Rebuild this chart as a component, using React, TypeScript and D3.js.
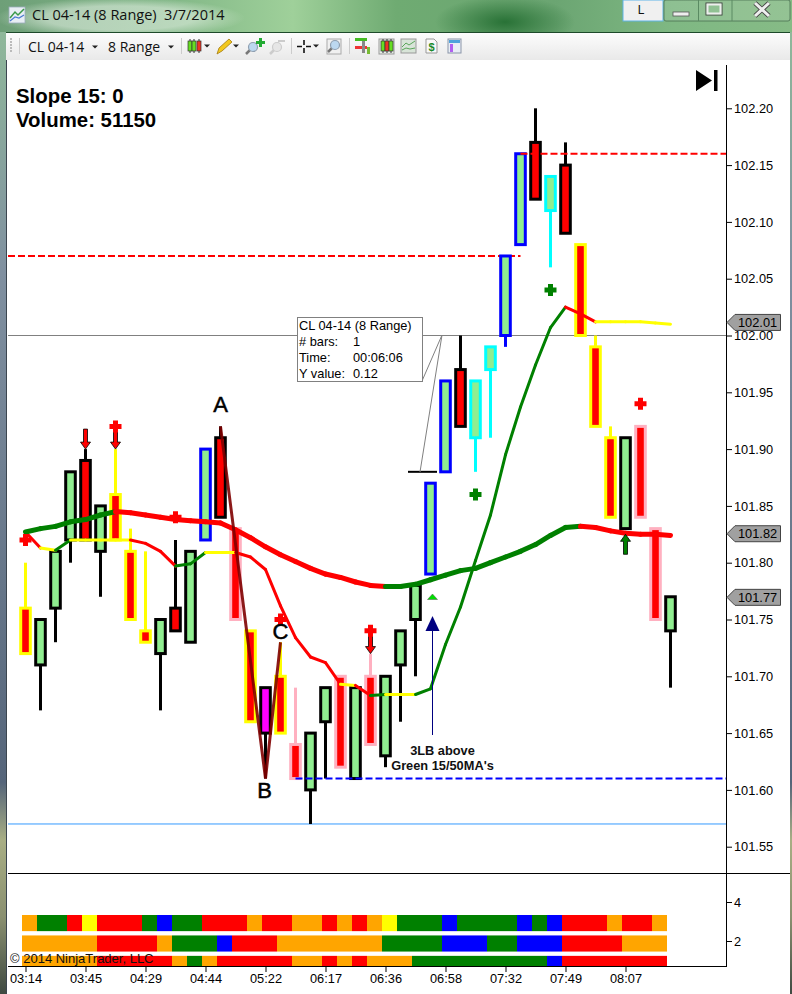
import React, { useEffect, useRef } from 'react';
import * as d3 from 'd3';

const WIDTH = 792;
const HEIGHT = 994;
const FONT = '"Liberation Sans", Arial, sans-serif';
const UI_FONT = '"Open Sans", "Noto Sans", sans-serif';

// one entry per range bar
const opens = [101.76, 101.71, 101.76, 101.82, 101.89, 101.81, 101.86, 101.81, 101.74, 101.72, 101.76, 101.73, 101.82, 101.91, 101.83, 101.74, 101.69, 101.7, 101.64, 101.6, 101.66, 101.7, 101.61, 101.7, 101.63, 101.71, 101.75, 101.79, 101.88, 101.97, 101.91, 101.97, 102.0, 102.08, 102.17, 102.11, 102.15, 102.08, 101.99, 101.91, 101.83, 101.92, 101.83, 101.74];
const closes = [101.72, 101.75, 101.81, 101.88, 101.82, 101.85, 101.82, 101.75, 101.73, 101.75, 101.74, 101.81, 101.9, 101.84, 101.75, 101.66, 101.65, 101.65, 101.61, 101.65, 101.69, 101.62, 101.69, 101.64, 101.7, 101.74, 101.78, 101.87, 101.96, 101.92, 101.96, 101.99, 102.07, 102.16, 102.12, 102.14, 102.09, 102.0, 101.92, 101.84, 101.91, 101.84, 101.75, 101.77];
const highs = [101.8, 101.75, 101.81, 101.88, 101.9, 101.85, 101.9, 101.83, 101.81, 101.75, 101.82, 101.81, 101.9, 101.92, 101.83, 101.74, 101.69, 101.73, 101.69, 101.65, 101.69, 101.7, 101.69, 101.72, 101.7, 101.74, 101.78, 101.87, 101.96, 102.0, 101.96, 101.99, 102.07, 102.16, 102.2, 102.14, 102.17, 102.08, 102.0, 101.92, 101.91, 101.92, 101.83, 101.77];
const lows = [101.72, 101.67, 101.73, 101.8, 101.82, 101.77, 101.82, 101.75, 101.73, 101.67, 101.74, 101.73, 101.82, 101.84, 101.75, 101.66, 101.61, 101.65, 101.61, 101.57, 101.61, 101.62, 101.61, 101.64, 101.62, 101.66, 101.7, 101.79, 101.88, 101.92, 101.88, 101.91, 101.99, 102.08, 102.12, 102.06, 102.09, 102.0, 101.92, 101.84, 101.83, 101.84, 101.75, 101.69];
const outlineCodes = 'YKKKKKYYYKKKBKPYKYPKKPKPKKKBBKCCBBKCKYYYKPPK'.split('');
const magentaBars = [16];

const ma50 = [101.827, 101.83, 101.832, 101.836, 101.838, 101.842, 101.845, 101.844, 101.842, 101.84, 101.838, 101.837, 101.836, 101.835, 101.829, 101.822, 101.814, 101.807, 101.801, 101.795, 101.79, 101.787, 101.783, 101.78, 101.779, 101.779, 101.781, 101.785, 101.789, 101.793, 101.795, 101.8, 101.805, 101.81, 101.816, 101.824, 101.831, 101.832, 101.831, 101.828, 101.826, 101.825, 101.825, 101.824];
const ma50Runs: [string, number][] = [['U', 6], ['D', 18], ['U', 13], ['D', 6]];
const ma15 = [101.827, 101.813, 101.811, 101.82, 101.82, 101.82, 101.82, 101.82, 101.817, 101.81, 101.797, 101.799, 101.809, 101.809, 101.809, 101.805, 101.794, 101.762, 101.734, 101.717, 101.712, 101.693, 101.692, 101.683, 101.684, 101.684, 101.684, 101.689, 101.728, 101.761, 101.802, 101.842, 101.895, 101.937, 101.974, 102.007, 102.025, 102.019, 102.012, 102.012, 102.012, 102.012, 102.011, 102.01];
const ma15Runs: [string, number][] = [['D', 1], ['F', 1], ['U', 1], ['F', 4], ['D', 3], ['U', 2], ['F', 2], ['D', 7], ['F', 1], ['D', 1], ['U', 1], ['F', 2], ['U', 10], ['D', 2], ['F', 5]];

const swingPrices = [101.92, 101.61, 101.73];
const swingBars = [13, 16, 17];
const swingNames = ['A', 'B', 'C'];
const swingLabelPrices = [101.94, 101.6, 101.74];

const redPlus = [[0, 101.82], [6, 101.92], [10, 101.84], [17, 101.75], [23, 101.74], [41, 101.94]];
const greenPlus = [[30, 101.86], [35, 102.04]];
const redArrows = [[4, 101.9], [6, 101.9], [23, 101.72]];
const greenArrows = [[40, 101.825]];

const priceTicks = [101.55, 101.6, 101.65, 101.7, 101.75, 101.8, 101.85, 101.9, 101.95, 102.0, 102.05, 102.1, 102.15, 102.2];
const priceTags = [102.01, 101.82, 101.77];
const tagCentres = [102.0115, 101.8255, 101.7695];
const timeLabels = ['03:14', '03:45', '04:29', '04:44', '05:22', '06:17', '06:36', '06:58', '07:32', '07:49', '08:07'];

const trendRow1: [string, number][] = [['O', 1], ['G', 2], ['R', 1], ['Y', 1], ['R', 3], ['G', 1], ['B', 1], ['G', 2], ['R', 3], ['O', 1], ['R', 2], ['O', 2], ['R', 1], ['O', 1], ['R', 1], ['O', 1], ['Y', 1], ['G', 3], ['B', 1], ['G', 4], ['B', 1], ['G', 1], ['B', 1], ['R', 3], ['O', 1], ['R', 2], ['O', 1]];
const trendRow2: [string, number][] = [['O', 5], ['R', 4], ['O', 1], ['G', 3], ['B', 1], ['R', 3], ['O', 7], ['G', 4], ['B', 3], ['G', 2], ['B', 3], ['R', 4], ['O', 3]];
const trendRow3: [string, number][] = [['O', 5], ['R', 5], ['O', 1], ['G', 1], ['O', 1], ['R', 5], ['O', 2], ['R', 1], ['O', 1], ['R', 1], ['O', 3], ['G', 9], ['B', 1], ['R', 7]];
const lowerTicks = [2, 4];

const tooltipLines = [
  ['CL 04-14 (8 Range)', ''],
  ['# bars:', '1'],
  ['Time:', '00:06:06'],
  ['Y value:', '0.12'],
];

const OUTLINE: Record<string, string> = { K: '#000', Y: '#ffff00', P: '#ffb0c0', B: '#0000ff', C: '#00ffff' };
const TREND: Record<string, string> = { U: '#008000', D: '#ff0000', F: '#ffff00' };
const CELL: Record<string, string> = { O: '#ffa500', G: '#008000', R: '#ff0000', Y: '#ffff00', B: '#0000ff' };

const x = d3.scaleLinear().domain([0, 43]).range([25.5, 670.5]);
const y = d3.scaleLinear().domain([101.55, 102.2]).range([846.7, 108.3]);
const lowerY = d3.scaleLinear().domain([2, 4]).range([941, 902]);
const rowBand = d3.scaleBand<number>().domain([0, 1, 2]).range([915, 972]).paddingInner(4 / 19);

const linePath = d3.line<[number, number]>().x((d) => d[0]).y((d) => d[1]);

// run-length codes -> one code per bar
const expand = (runs: [string, number][]) => runs.flatMap(([code, n]) => Array<string>(n).fill(code));

// line with a colour per segment
const Segments = ({ values, runs, width }: { values: number[]; runs: [string, number][]; width: number }) => (
  <g fill="none" strokeWidth={width} strokeLinecap="round">
    {expand(runs).map((t, i) => (
      <path key={i} stroke={TREND[t]} d={linePath([[x(i), y(values[i])], [x(i + 1), y(values[i + 1])]]) as string} />
    ))}
  </g>
);

const Plus = ({ bar, price, color }: { bar: number; price: number; color: string }) => {
  const cx = x(bar);
  const cy = y(price);
  return <path d={`M${cx - 6},${cy - 2.5}h3.5v-3.5h5v3.5h3.5v5h-3.5v3.5h-5v-3.5h-3.5z`} fill={color} />;
};

const Arrow = ({ bar, price, dir, color }: { bar: number; price: number; dir: number; color: string }) => {
  const cx = x(bar);
  const tip = y(price);
  return (
    <path
      d={`M${cx},${tip} l${-5},${-dir * 7} h3 v${-dir * 13} h4 v${dir * 13} h3 z`}
      fill={color}
      stroke="#000"
      strokeWidth={0.8}
    />
  );
};

const CandleIcon = ({ cx, cy, c }: { cx: number; cy: number; c: string }) => (
  <g>
    <line x1={cx} x2={cx} y1={cy - 7} y2={cy + 7} stroke="#333" />
    <rect x={cx - 2} y={cy - 5} width={4} height={10} fill={c} stroke="#333" strokeWidth={0.7} />
  </g>
);

const Caret = ({ cx, cy }: { cx: number; cy: number }) => <path d={`M${cx - 3},${cy - 1.5}h6l-3,3z`} fill="#222" />;

const Lens = ({ cx, cy, on }: { cx: number; cy: number; on: boolean }) => (
  <g>
    <line x1={cx - 3} y1={cy + 3} x2={cx - 7} y2={cy + 7} stroke={on ? '#777' : '#ccc'} strokeWidth={2.5} />
    <circle cx={cx} cy={cy} r={4.5} fill={on ? '#bcd8f0' : '#e6e6e6'} stroke={on ? '#8f9fb0' : '#ccc'} strokeWidth={1.2} />
  </g>
);

const Toolbar = () => (
  <g>
    <rect x={6} y={32} width={784} height={28} fill="url(#toolbarFill)" />
    <rect x={6} y={32} width={784} height={1} fill="#1d4a2a" />
    <line x1={11} x2={11} y1={38} y2={52} stroke="#bbb" strokeWidth={2} strokeDasharray="2 1" />
    <line x1={19.5} x2={19.5} y1={38} y2={54} stroke="#ccc" />
    <text x={28} y={52} fontFamily={UI_FONT} fontSize={14} fill="#111">CL 04-14</text>
    <Caret cx={95} cy={47} />
    <text x={108} y={52} fontFamily={UI_FONT} fontSize={14} fill="#111">8 Range</text>
    <Caret cx={171} cy={47} />
    <line x1={181.5} x2={181.5} y1={38} y2={54} stroke="#ccc" />
    <CandleIcon cx={190} cy={46} c="#66dd22" />
    <CandleIcon cx={194} cy={46} c="#66dd22" />
    <CandleIcon cx={199} cy={46} c="#ee3322" />
    <Caret cx={207} cy={46} />
    <path d="M217,54 l2,-6 l10,-9 l3,3 l-10,9z" fill="#f2c81e" stroke="#a47b10" strokeWidth={0.8} />
    <Caret cx={236} cy={46} />
    <Lens cx={253} cy={47} on />
    <path d="M256,41h3v-3h3v3h3v3h-3v3h-3v-3h-3z" fill="#22aa33" />
    <Lens cx={277} cy={47} on={false} />
    <rect x={278} y={40} width={7} height={2} fill="#ccc" />
    <line x1={291.5} x2={291.5} y1={38} y2={54} stroke="#ccc" />
    <path d="M304,40v5M304,48v5M297,46.5h5M306,46.5h5" stroke="#111" strokeWidth={1.6} />
    <Caret cx={316} cy={46} />
    <rect x={327} y={39} width={14} height={15} fill="#f0f0f0" stroke="#aaa" />
    <Lens cx={335} cy={45} on />
    <line x1={349.5} x2={349.5} y1={38} y2={54} stroke="#ccc" />
    <rect x={355} y={38} width={12} height={3} fill="#44bb22" />
    <rect x={355} y={46} width={12} height={3} fill="#ee3333" />
    <rect x={362} y={41} width={3} height={12} fill="#888" />
    <rect x={367} y={47} width={3} height={7} fill="#77bb33" />
    <rect x={379} y={39} width={15} height={15} fill="#e8eee8" stroke="#999" />
    <CandleIcon cx={383} cy={46} c="#66dd22" />
    <CandleIcon cx={387} cy={46} c="#ee3322" />
    <CandleIcon cx={391} cy={46} c="#66dd22" />
    <rect x={401} y={39} width={15} height={14} fill="#d8e4d8" stroke="#999" />
    <path d="M402,47l4,-4l3,2l6,-4M402,50l4,-2l4,1l5,-1" fill="none" stroke="#5aa65a" />
    <path d="M426,39h8l3,3v11h-11z" fill="#f8f8f8" stroke="#999" />
    <text x={431.5} y={51} textAnchor="middle" fontFamily={FONT} fontSize={11} fontWeight="bold" fill="#1a8a2a">$</text>
    <rect x={448} y={39} width={13} height={14} fill="#e9eef6" stroke="#8a95a8" />
    <rect x={449} y={40} width={11} height={3} fill="#4fa3dc" />
    <rect x={450} y={44} width={3} height={8} fill="#b060f0" />
  </g>
);

const TitleBar = () => (
  <g>
    <rect x={0} y={0} width={WIDTH} height={32} fill="url(#titleFill)" />
    <ellipse cx={505} cy={22} rx={70} ry={26} fill="url(#titleDark)" />
    <ellipse cx={120} cy={18} rx={125} ry={20} fill="url(#titleHaze)" />
    <rect x={9} y={7} width={16} height={16} fill="#e8eef4" stroke="#9ab" strokeWidth={0.8} />
    <path d="M10,18l5,-6l3,3l6,-6" fill="none" stroke="#3a9a4a" strokeWidth={1.5} />
    <path d="M10,21l5,-4l4,1l5,-3" fill="none" stroke="#4a7ad0" strokeWidth={1.2} />
    <text x={32} y={20} fontFamily={UI_FONT} fontSize={14.5} fill="#111" xmlSpace="preserve">CL 04-14 (8 Range)  3/7/2014</text>
    <rect x={623} y={0} width={40} height={21} fill="#f0f0f0" stroke="#5fb4e8" strokeWidth={1} />
    <text x={641} y={14} textAnchor="middle" fontFamily={FONT} fontSize={12} fill="#111">L</text>
    <rect x={664} y={0} width={126} height={21} rx={2} fill="#ffffff" fillOpacity={0.12} stroke="#4a6f52" strokeWidth={0.8} />
    <line x1={698.5} x2={698.5} y1={0} y2={21} stroke="#5a8a62" />
    <line x1={732} x2={732} y1={0} y2={21} stroke="#5a8a62" />
    <rect x={673} y={12} width={16} height={4} fill="#eee" stroke="#555" strokeWidth={0.8} />
    <rect x={706} y={3} width={16} height={12} fill="none" stroke="#444" strokeWidth={1} />
    <rect x={707.5} y={4.5} width={13} height={9} fill="none" stroke="#eee" strokeWidth={2} />
    <path d="M755,3l14,13M769,3l-14,13" stroke="#444" strokeWidth={4.6} />
    <path d="M755,3l14,13M769,3l-14,13" stroke="#eee" strokeWidth={3} />
  </g>
);

const App = () => {
  const yAxisRef = useRef<SVGGElement | null>(null);
  const lowerAxisRef = useRef<SVGGElement | null>(null);
  const xAxisRef = useRef<SVGGElement | null>(null);

  useEffect(() => {
    const style = (sel: d3.Selection<SVGGElement, unknown, null, undefined>) => {
      sel.select('.domain').remove();
      sel.selectAll('text').attr('font-family', FONT).attr('font-size', 12.8).attr('fill', '#000');
      sel.selectAll('line').attr('stroke', '#000');
    };
    const yAxis = d3.select(yAxisRef.current as SVGGElement);
    yAxis.call(d3.axisRight(y).tickValues(priceTicks).tickFormat(d3.format('.2f') as any).tickSize(6).tickPadding(2));
    style(yAxis);
    const lowerAxis = d3.select(lowerAxisRef.current as SVGGElement);
    lowerAxis.call(d3.axisRight(lowerY).tickValues(lowerTicks).tickFormat(d3.format('d') as any).tickSize(6).tickPadding(2));
    style(lowerAxis);
    const xAxis = d3.select(xAxisRef.current as SVGGElement);
    xAxis.call(
      d3
        .axisBottom(x)
        .tickValues(timeLabels.map((_, i) => i * 4))
        .tickFormat((d: any) => timeLabels[d / 4])
        .tickSize(6)
        .tickPadding(2),
    );
    style(xAxis);
  }, []);

  return (
    <svg width={WIDTH} height={HEIGHT} style={{ position: 'absolute', left: 0, top: 0, background: '#fff' }}>
      <defs>
        <linearGradient id="titleFill" x1="0" x2="1" y1="0" y2="0">
          <stop offset="0" stopColor="#6e9f78" />
          <stop offset="0.2" stopColor="#7fb585" />
          <stop offset="0.37" stopColor="#9fd09a" />
          <stop offset="0.5" stopColor="#6fab72" />
          <stop offset="0.7" stopColor="#6ba572" />
          <stop offset="0.85" stopColor="#7fb883" />
          <stop offset="1" stopColor="#86bb86" />
        </linearGradient>
        <radialGradient id="titleDark">
          <stop offset="0" stopColor="#256f33" stopOpacity={0.95} />
          <stop offset="1" stopColor="#256f33" stopOpacity={0} />
        </radialGradient>
        <radialGradient id="titleHaze">
          <stop offset="0.6" stopColor="#e8f2e8" stopOpacity={0.55} />
          <stop offset="1" stopColor="#e8f2e8" stopOpacity={0} />
        </radialGradient>
        <linearGradient id="toolbarFill" x1="0" x2="0" y1="0" y2="1">
          <stop offset="0" stopColor="#fdfdfd" />
          <stop offset="1" stopColor="#e9e9e9" />
        </linearGradient>
        <linearGradient id="sideFill" x1="0" x2="0" y1="0" y2="1">
          <stop offset="0" stopColor="#8fb89a" />
          <stop offset="0.25" stopColor="#8090a0" />
          <stop offset="0.78" stopColor="#55657a" />
          <stop offset="0.84" stopColor="#a8ae84" />
          <stop offset="0.92" stopColor="#8a9070" />
          <stop offset="1" stopColor="#3f4a42" />
        </linearGradient>
        <clipPath id="lowerClip">
          <rect x={8} y={873} width={718} height={93} />
        </clipPath>
      </defs>

      <TitleBar />
      <rect x={0} y={32} width={6} height={HEIGHT - 32} fill="url(#sideFill)" />
      <rect x={6} y={32} width={1} height={HEIGHT - 32} fill="#3c4650" />
      <rect x={790} y={32} width={2} height={HEIGHT - 32} fill="url(#sideFill)" />
      <Toolbar />

      <g fontFamily={FONT} fontWeight="bold" fontSize={20.4} fill="#000">
        <text x={16} y={103}>Slope 15: 0</text>
        <text x={16} y={127}>Volume: 51150</text>
      </g>
      <path d="M696,70l16,10.5l-16,10.5z M714,70h3.5v21h-3.5z" fill="#000" />

      {/* reference levels */}
      <line x1={8} x2={726} y1={y(102)} y2={y(102)} stroke="#808080" strokeWidth={1} />
      <line x1={8} x2={726} y1={y(101.57)} y2={y(101.57)} stroke="#3399ff" strokeWidth={1} />
      <line x1={8} x2={x(33)} y1={y(102.07)} y2={y(102.07)} stroke="#ff0000" strokeWidth={2} strokeDasharray="7 3" />

      {/* candles */}
      {opens.map((o, i) => {
        const c = closes[i];
        const stroke = OUTLINE[outlineCodes[i]];
        const fill = magentaBars.includes(i) ? '#ff00ff' : c > o ? '#90ee90' : '#ff0000';
        const top = y(Math.max(o, c));
        const bottom = y(Math.min(o, c));
        return (
          <g key={i}>
            <line x1={x(i)} x2={x(i)} y1={y(highs[i])} y2={y(lows[i])} stroke={stroke} strokeWidth={3} />
            <rect x={x(i) - 4.8} y={top} width={9.6} height={bottom - top} fill={fill} stroke={stroke} strokeWidth={3} />
          </g>
        );
      })}

      <line x1={x(33)} x2={726} y1={y(102.16)} y2={y(102.16)} stroke="#ff0000" strokeWidth={2} strokeDasharray="7 3" />
      <line x1={x(18)} x2={726} y1={y(101.61)} y2={y(101.61)} stroke="#0000ff" strokeWidth={2} strokeDasharray="7 3" />
      <line x1={408} x2={437} y1={y(101.88)} y2={y(101.88)} stroke="#000" strokeWidth={2} />

      <Segments values={ma15} runs={ma15Runs} width={3} />
      <Segments values={ma50} runs={ma50Runs} width={5} />

      {/* ABC swing */}
      <path
        d={linePath(swingBars.map((b, i) => [x(b), y(swingPrices[i])])) as string}
        fill="none"
        stroke="#800000"
        strokeWidth={3}
        strokeOpacity={0.9}
      />

      {redArrows.map(([b, p], i) => <Arrow key={i} bar={b} price={p} dir={1} color="#ff0000" />)}
      {greenArrows.map(([b, p], i) => <Arrow key={i} bar={b} price={p} dir={-1} color="#008000" />)}
      {redPlus.map(([b, p], i) => <Plus key={i} bar={b} price={p} color="#ff0000" />)}
      {greenPlus.map(([b, p], i) => <Plus key={i} bar={b} price={p} color="#008000" />)}

      {swingNames.map((name, i) => (
        <text
          key={name}
          x={x(swingBars[i]) - (i === 1 ? 1 : 0)}
          y={y(swingLabelPrices[i])}
          dy="0.36em"
          textAnchor="middle"
          fontFamily={FONT}
          fontSize={22}
          stroke="#000"
          strokeWidth={0.5}
          fill="#000"
        >
          {name}
        </text>
      ))}

      {/* 3LB note */}
      <line x1={432.5} x2={432.5} y1={630} y2={735} stroke="#000080" />
      <path d="M432.5,616l7,15h-14z" fill="#000080" />
      <path d="M432.5,594l5,5.5h-10z" fill="#00dd00" stroke="#555" strokeWidth={0.5} />
      <g fontFamily={FONT} fontSize={12.8} fontWeight="bold" textAnchor="middle" fill="#111">
        <text x={442.5} y={755}>3LB above</text>
        <text x={442.5} y={770}>Green 15/50MA's</text>
      </g>

      {/* ruler tooltip */}
      <path d="M420,472L442,335L422,381" fill="none" stroke="#808080" strokeWidth={1} />
      <rect x={297.5} y={317.5} width={125} height={64} fill="#fff" stroke="#808080" />
      <g fontFamily={FONT} fontSize={12.8} fill="#000">
        {tooltipLines.map(([k, v], i) => (
          <g key={k}>
            <text x={299} y={330 + i * 16}>{k}</text>
            <text x={353} y={330 + i * 16}>{v}</text>
          </g>
        ))}
      </g>

      {/* frame and axes */}
      <line x1={726.5} x2={726.5} y1={65} y2={966} stroke="#000" />
      <line x1={8} x2={790} y1={873.5} y2={873.5} stroke="#000" />
      <g ref={yAxisRef} transform="translate(726,0)" />

      {priceTags.map((tag, i) => {
        const cy = y(tagCentres[i]);
        return (
          <g key={tag}>
            <path d={`M727,${cy} l8,-8 h45.5 v16 h-45.5 z`} fill="#a0a0a0" stroke="#444" />
            <text x={738} y={cy + 4.5} fontFamily={FONT} fontSize={12.8} fill="#000">{tag.toFixed(2)}</text>
          </g>
        );
      })}

      {/* lower panel */}
      <g clipPath="url(#lowerClip)">
        {[trendRow1, trendRow2, trendRow3].map((runs, r) =>
          expand(runs).map((code, i) => (
            <rect
              key={`${r}-${i}`}
              x={x(i) - 3.5}
              y={rowBand(r)}
              width={15}
              height={rowBand.bandwidth()}
              fill={CELL[code]}
            />
          )),
        )}
      </g>
      <text x={10} y={963} fontFamily={FONT} fontSize={13} fill="#111">© 2014 NinjaTrader, LLC</text>
      <g ref={lowerAxisRef} transform="translate(726,0)" />
      <line x1={8} x2={727} y1={966.5} y2={966.5} stroke="#000" />
      <g ref={xAxisRef} transform="translate(0,966)" />
    </svg>
  );
};

export default App;
